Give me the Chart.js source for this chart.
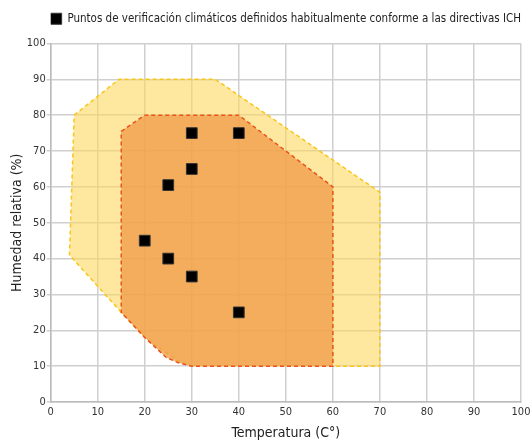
<!DOCTYPE html>
<html>
<head>
<meta charset="utf-8">
<script src="https://cdn.jsdelivr.net/npm/chart.js@4"></script>
<style>
  html, body { margin: 0; padding: 0; background: #fff; }
  #wrap { width: 531px; height: 441px; }
</style>
</head>
<body>
<div id="wrap"><canvas id="chart"></canvas></div>
<script>
const legendLabel = "Puntos de verificación climáticos definidos habitualmente conforme a las directivas ICH";
const xTitle = "Temperatura (C°)";
const yTitle = "Humedad relativa (%)";

// outer (yellow) zone, closed polygon
const outerX = [5, 14.5, 35, 70, 70, 30, 27, 20, 15, 4, 5];
const outerY = [80, 90, 90, 58.5, 10, 10, 11.5, 18, 25, 41, 80];

// inner (orange) zone, closed polygon
const innerX = [15, 20, 40, 60, 60, 30, 27, 24.5, 20, 15, 15];
const innerY = [75.5, 80, 80, 60, 10, 10, 11, 12.5, 18, 25, 75.5];

// check points
const pointX = [30, 40, 30, 25, 20, 25, 30, 40];
const pointY = [75, 75, 65, 60.5, 45, 40, 35, 25];

const toXY = (xs, ys) => xs.map((x, i) => ({ x: x, y: ys[i] }));
const font = "'DejaVu Sans Condensed', 'Liberation Sans', sans-serif";

Chart.defaults.font.family = font;
Chart.defaults.color = "#333";

// extra gap under the legend
const legendGap = {
  id: "legendGap",
  beforeInit(chart) {
    const fit = chart.legend.fit;
    chart.legend.fit = function () {
      fit.bind(chart.legend)();
      this.height += 9;
    };
  },
};

const ctx = document.getElementById("chart").getContext("2d");
new Chart(ctx, {
  type: "scatter",
  plugins: [legendGap],
  data: {
    datasets: [
      {
        label: legendLabel,
        data: toXY(pointX, pointY),
        pointStyle: "rect",
        pointRadius: 7.6,
        backgroundColor: "#000",
        borderColor: "#333",
        borderWidth: 1,
      },
      {
        label: "inner",
        data: toXY(innerX, innerY),
        showLine: true,
        fill: "shape",
        pointRadius: 0,
        borderColor: "#E9541E",
        borderWidth: 1.5,
        borderDash: [4, 3],
        backgroundColor: "rgba(239,154,70,0.75)",
      },
      {
        label: "outer",
        data: toXY(outerX, outerY),
        showLine: true,
        fill: "shape",
        pointRadius: 0,
        borderColor: "#F7C71A",
        borderWidth: 1.5,
        borderDash: [4, 3],
        backgroundColor: "rgba(254,215,95,0.6)",
      },
    ],
  },
  options: {
    responsive: true,
    maintainAspectRatio: false,
    animation: false,
    layout: { padding: { left: 9, right: 10, top: 2, bottom: -1 } },
    plugins: {
      tooltip: { enabled: false },
      legend: {
        fullSize: false,
        labels: {
          filter: (item) => item.datasetIndex === 0,
          boxWidth: 11,
          boxHeight: 11,
          color: "#222",
          font: { size: 11.5 },
          padding: 11,
        },
      },
    },
    scales: {
      x: {
        min: 0,
        max: 100,
        afterFit: (scale) => { scale.paddingRight = 0; },
        ticks: { stepSize: 10, font: { size: 11 }, color: "#333", padding: 4 },
        grid: { color: "#cfcfcf", lineWidth: 1.5, tickLength: 0 },
        border: { color: "#bbb", width: 1.5 },
        title: { display: true, text: xTitle, font: { size: 14 }, color: "#222", padding: { top: 2, bottom: 0 } },
      },
      y: {
        min: 0,
        max: 100,
        ticks: { stepSize: 10, font: { size: 11 }, color: "#333", padding: 1 },
        grid: { color: "#cfcfcf", lineWidth: 1.5, tickLength: 4 },
        border: { color: "#bbb", width: 1.5 },
        title: { display: true, text: yTitle, font: { size: 14 }, color: "#222", padding: { top: 0, bottom: 0 } },
      },
    },
  },
});
</script>
</body>
</html>
